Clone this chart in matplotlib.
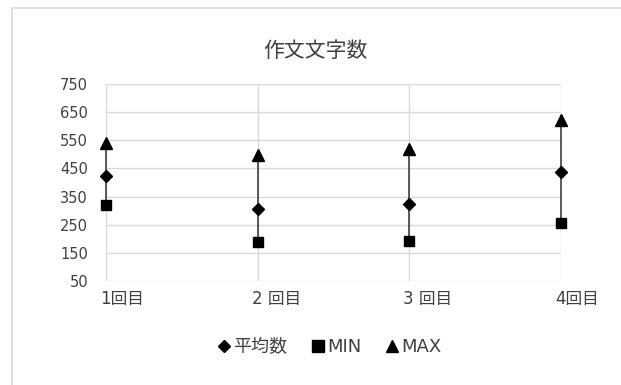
import matplotlib
matplotlib.use("Agg")
from matplotlib import pyplot as plt
from matplotlib.lines import Line2D
from matplotlib.patches import Rectangle
import matplotlib.transforms as mtransforms

plt.rcParams['font.family'] = ['DejaVu Sans', 'Noto Sans CJK JP']

# 作文文字数 per round
rounds = [1, 2, 3, 4]
round_labels = ['1回目', '2 回目', '3 回目', '4回目']
avg_vals = [424, 306, 325, 437]
min_vals = [320, 190, 192, 257]
max_vals = [542, 497, 518, 623]
y_ticks = [50, 150, 250, 350, 450, 550, 650, 750]

text_color = '#404040'
grid_color = '#d9d9d9'

fig = plt.figure(figsize=(6.21, 3.85), dpi=100)
fig.patch.set_facecolor('white')

# chart frame (runs off the right and bottom edges)
fig.add_artist(Rectangle((12 / 621, -0.1), 1.2, 1 - 8 / 385 + 0.1,
                         transform=fig.transFigure, fill=False,
                         edgecolor='#d9d9d9', linewidth=1.2))

ax = fig.add_axes([106 / 621, 1 - 281 / 385, (561 - 106) / 621, (281 - 84) / 385])
ax.set_xlim(1, 4)
ax.set_ylim(50, 750)
ax.set_yticks(y_ticks)
ax.set_xticks(rounds)
ax.grid(True, color=grid_color, linewidth=1.0)
ax.set_axisbelow(True)
for s in ax.spines.values():
    s.set_visible(False)
ax.tick_params(length=0)
ax.tick_params(axis='y', labelsize=10.5, labelcolor=text_color, pad=13)

# x labels sit slightly right of each category
ax.set_xticklabels([])
offset = mtransforms.ScaledTranslation(-6 / 100, 0, fig.dpi_scale_trans)
for r, lab in zip(rounds, round_labels):
    ax.text(r, -0.045, lab, transform=ax.get_xaxis_transform() + offset,
            ha='left', va='top', fontsize=12, color=text_color)

# high-low lines
ax.vlines(rounds, min_vals, max_vals, color='#404040', linewidth=1.2, zorder=2,
          clip_on=False)

ax.plot(rounds, avg_vals, 'D', color='black', markersize=6.5, linestyle='',
        zorder=3, clip_on=False)
ax.plot(rounds, min_vals, 's', color='black', markersize=7.5, linestyle='',
        zorder=3, clip_on=False)
ax.plot(rounds, max_vals, '^', color='black', markersize=8.5, linestyle='',
        zorder=3, clip_on=False)

fig.text(315 / 621, 1 - 51 / 385, '作文文字数', ha='center', va='center',
         fontsize=15, color=text_color)

handles = [Line2D([0], [0], marker='D', color='black', linestyle='', markersize=6.5),
           Line2D([0], [0], marker='s', color='black', linestyle='', markersize=8),
           Line2D([0], [0], marker='^', color='black', linestyle='', markersize=9)]
fig.legend(handles, ['平均数', 'MIN', 'MAX'], loc='center',
           bbox_to_anchor=(330 / 621, 1 - 347 / 385), ncol=3, frameon=False,
           fontsize=13, labelcolor=text_color, handlelength=0.6,
           handletextpad=0.2, columnspacing=1.4)

fig.savefig('out.png', dpi=100, facecolor='white')
